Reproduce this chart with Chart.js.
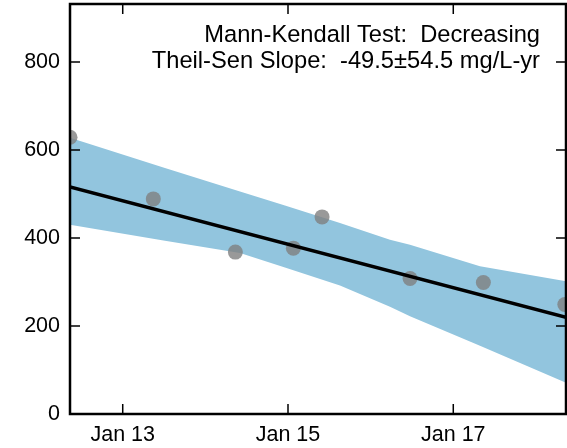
<!DOCTYPE html>
<html>
<head>
<meta charset="utf-8">
<script src="https://cdn.jsdelivr.net/npm/chart.js@4/dist/chart.umd.min.js"></script>
<style>
  body { margin: 0; background: #fff; }
</style>
</head>
<body>
<canvas id="chart_trend" width="567" height="448"></canvas>
<script>
// sample dates (decimal years) and concentrations
var sampleYears = [2012.362, 2013.37, 2014.363, 2015.065, 2015.412, 2016.477, 2017.364, 2018.35];
var sampleValues = [629, 489, 368, 377, 448, 308, 299, 249];

// theil-sen trend line, ends at the edges of the plot
var trendYears = [2012.362, 2018.364];
var trendValues = [516, 220];

// confidence band
var bandYears = [2012.362, 2013.511, 2014.419, 2014.963, 2015.629, 2016.234, 2016.476, 2017.323, 2018.364];
var bandUpper = [628, 559, 506, 474, 434, 396, 385, 336, 302];
var bandLower = [430, 394, 366, 333, 292, 244, 222, 155, 71];

// axes
var xMin = 2012.362;
var xMax = 2018.364;
var xTickValues = [2013, 2015, 2017];
var xTickLabels = ['Jan 13', 'Jan 15', 'Jan 17'];
var yMin = 0;
var yMax = 932;
var yTickValues = [0, 200, 400, 600, 800];

var annotationLines = ['Mann-Kendall Test:  Decreasing', 'Theil-Sen Slope:  -49.5\u00b154.5 mg/L-yr'];

var fontFamily = '"Liberation Sans", Arial, sans-serif';

function toPoints(xs, ys) {
    var out = [];
    for (var i = 0; i < xs.length; i++) {
        out.push({x: xs[i], y: ys[i]});
    }
    return out;
}

// frame with inward ticks on all four sides + the text in the corner
var framePlugin = {
    id: 'frame',
    afterDatasetsDraw: function(chart) {
        var ctx = chart.ctx;
        var a = chart.chartArea;
        var xs = chart.scales.x;
        var ys = chart.scales.y;
        ctx.save();
        ctx.strokeStyle = '#000';
        ctx.lineWidth = 1.5;
        ctx.beginPath();
        xTickValues.forEach(function(v) {
            var px = xs.getPixelForValue(v);
            ctx.moveTo(px, a.bottom);
            ctx.lineTo(px, a.bottom - 10);
            ctx.moveTo(px, a.top);
            ctx.lineTo(px, a.top + 10);
        });
        yTickValues.forEach(function(v) {
            var py = ys.getPixelForValue(v);
            ctx.moveTo(a.left, py);
            ctx.lineTo(a.left + 10, py);
            ctx.moveTo(a.right, py);
            ctx.lineTo(a.right - 10, py);
        });
        ctx.stroke();
        ctx.lineWidth = 2.5;
        ctx.strokeRect(a.left, a.top, a.right - a.left, a.bottom - a.top);

        ctx.fillStyle = '#000';
        ctx.font = '23.7px ' + fontFamily;
        ctx.textAlign = 'right';
        ctx.textBaseline = 'alphabetic';
        ctx.fillText(annotationLines[0], 540, 42);
        ctx.fillText(annotationLines[1], 540, 68);
        ctx.restore();
    }
};

var ctxTrend = document.getElementById('chart_trend').getContext('2d');

var configTrend = {
    type: 'line',
    data: {
        datasets: [
            {
                // trend line on top
                data: toPoints(trendYears, trendValues),
                borderColor: '#000',
                borderWidth: 3.5,
                pointRadius: 0,
                fill: false
            },
            {
                data: toPoints(sampleYears, sampleValues),
                showLine: false,
                pointRadius: 7.5,
                pointBorderWidth: 0,
                pointBackgroundColor: 'rgba(128, 128, 128, 0.8)',
                fill: false
            },
            {
                data: toPoints(bandYears, bandUpper),
                borderWidth: 0,
                borderColor: 'rgba(0,0,0,0)',
                backgroundColor: '#92c5de',
                pointRadius: 0,
                fill: '+1'
            },
            {
                data: toPoints(bandYears, bandLower),
                borderWidth: 0,
                borderColor: 'rgba(0,0,0,0)',
                pointRadius: 0,
                fill: false
            }
        ]
    },
    options: {
        responsive: false,
        animation: false,
        layout: {
            autoPadding: false,
            padding: { top: 4, right: 1, left: 0, bottom: 0 }
        },
        plugins: {
            legend: { display: false },
            tooltip: { enabled: false }
        },
        scales: {
            x: {
                type: 'linear',
                min: xMin,
                max: xMax,
                afterBuildTicks: function(scale) {
                    scale.ticks = xTickValues.map(function(v) { return {value: v}; });
                },
                afterFit: function(scale) {
                    // no extra room for the labels at the ends
                    scale.height = 34;
                    scale.paddingLeft = 0;
                    scale.paddingRight = 0;
                },
                grid: { display: false, drawTicks: false },
                border: { display: false },
                ticks: {
                    color: '#000',
                    padding: 8,
                    maxRotation: 0,
                    font: { family: fontFamily, size: 21.5 },
                    callback: function(value) {
                        var i = xTickValues.indexOf(value);
                        return i >= 0 ? xTickLabels[i] : '';
                    }
                }
            },
            y: {
                type: 'linear',
                min: yMin,
                max: yMax,
                afterBuildTicks: function(scale) {
                    scale.ticks = yTickValues.map(function(v) { return {value: v}; });
                },
                afterFit: function(scale) {
                    scale.width = 70;
                    scale.paddingTop = 0;
                    scale.paddingBottom = 0;
                },
                grid: { display: false, drawTicks: false },
                border: { display: false },
                ticks: {
                    color: '#000',
                    padding: 10,
                    font: { family: fontFamily, size: 21.5 }
                }
            }
        }
    },
    plugins: [framePlugin]
};

var chartTrend = new Chart(ctxTrend, configTrend);
</script>
</body>
</html>
